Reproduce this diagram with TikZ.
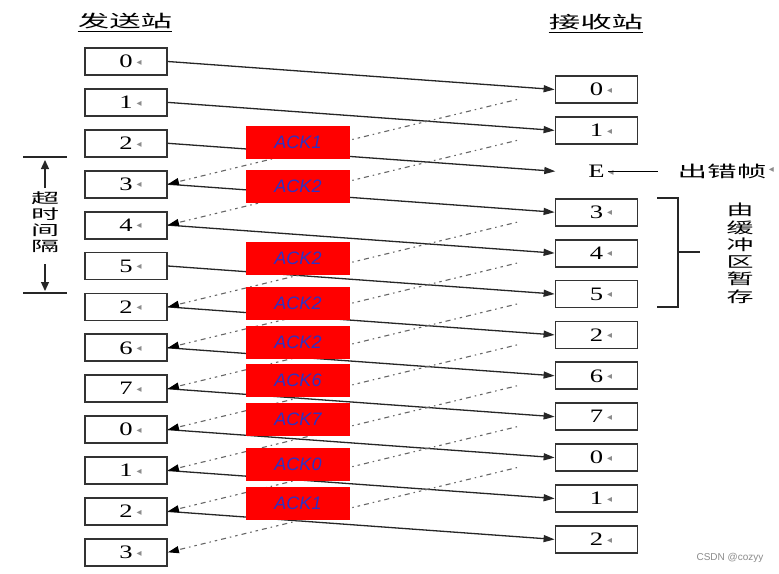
\documentclass[tikz,border=0pt]{standalone}
\usepackage{fontspec}
\setmainfont{Liberation Serif}
\newfontfamily\cjk{Noto Sans CJK SC}
\newfontfamily\dvs{DejaVu Sans}
\newfontfamily\arial{Liberation Sans}
\usetikzlibrary{arrows.meta}
\definecolor{ackblue}{RGB}{45,50,195}
\newcommand{\tri}{{\dvs\fontsize{10}{10}\selectfont\color{black!45}\raisebox{2.5pt}{◂}}}
\newcommand{\dig}[1]{\hphantom{\tri}\hspace{4pt}\scalebox{1.4}[1]{\fontsize{19}{19}\selectfont #1}\hspace{4pt}\tri}
\newcommand{\cjks}[3]{\scalebox{#1}[1]{\cjk\fontsize{#2}{#2}\selectfont #3}}
\begin{document}
\begin{tikzpicture}[x=1pt,y=-1pt,
  fbox/.style={draw=black!80, line width=1.8pt, minimum width=82pt, minimum height=27pt, inner sep=0pt},
  data/.style={line width=1.3pt, draw=black!85, -{Triangle[length=11pt,width=7pt]}},
  ack/.style={line width=1.1pt, draw=black!60, dash pattern=on 1.5pt off 4pt on 5pt off 4pt on 2.5pt off 4pt, -{Triangle[length=11pt,width=7pt,color=black]}},
  ackbox/.style={fill=red, minimum width=104pt, minimum height=33pt, inner sep=0pt, font=\arial\itshape\fontsize{18}{18}\selectfont, text=ackblue},
  markline/.style={line width=1.3pt, draw=black!85},
  title/.style={inner sep=0pt}]
\fill[white] (0,0) rectangle (779,573);
\useasboundingbox (0,0) rectangle (779,573);

% titles
\node[title] (t1) at (125,21) {\cjks{1.85}{17}{发送站}};
\node[title] (t2) at (596,22) {\cjks{1.85}{17}{接收站}};
\draw[line width=0.8pt] ([yshift=-2pt]t1.south west) -- ([yshift=-2pt]t1.south east);
\draw[line width=0.8pt] ([yshift=-2pt]t2.south west) -- ([yshift=-2pt]t2.south east);

% sender boxes
\foreach \t [count=\i from 0] in {0,1,2,3,4,5,2,6,7,0,1,2,3}
  \node[fbox] (L\i) at (126, 61.5+40.9*\i) {\dig{\t}};

% receiver boxes
\foreach \t/\j in {0/0,1/1,3/3,4/4,5/5,2/6,6/7,7/8,0/9,1/10,2/11}
  \node[fbox] (R\j) at (596.5, 89.5+40.9*\j) {\dig{\t}};
\node[minimum width=82pt, minimum height=27pt, inner sep=0pt] (R2) at (596.5, 171.3) {\dig{E}};

% data frames
\foreach \i in {0,...,11}
  \draw[data] (L\i.east) -- (R\i.west);

% acknowledgements
\foreach \j in {0,1,3,4,5,6,7,8,9}{
  \pgfmathtruncatemacro{\k}{\j+3}
  \coordinate (A\j) at (517, 99.5+40.9*\j);
  \draw[ack] (A\j) -- (L\k.east);
}

% error frame label
\node[title] (err) at (722,171) {\cjks{1.85}{16}{出错帧}};
\node[title, anchor=west] (errt) at ([xshift=2pt]err.east) {\tri};
\coordinate (eA) at (608,171.3);
\coordinate (eB) at (658,171.3);
\draw[line width=1.1pt] (eA) -- (eB);

% buffer bracket
\coordinate (b1) at (657,198);
\coordinate (b2) at (678,198);
\coordinate (b3) at (678,307);
\coordinate (b4) at (657,307);
\coordinate (bm) at (678,252);
\coordinate (bt) at (700,252);
\draw[markline] (b1) -- (b2) -- (b3) -- (b4);
\draw[markline] (bm) -- (bt);
\node[title] (buf) at (740,255) {\scalebox{1.8}[1]{\cjk\fontsize{15}{16}\selectfont\begin{tabular}{@{}c@{}}由\\缓\\冲\\区\\暂\\存\end{tabular}}};

% timeout interval
\coordinate (tl1) at (23,157);
\coordinate (tl2) at (67,157);
\coordinate (bl1) at (23,293);
\coordinate (bl2) at (67,293);
\draw[markline] (tl1) -- (tl2);
\draw[markline] (bl1) -- (bl2);
\node[title] (tout) at (45,224) {\scalebox{2.0}[1]{\cjk\fontsize{14}{15.5}\selectfont\begin{tabular}{@{}c@{}}超\\时\\间\\隔\end{tabular}}};
\coordinate (ua) at (45,188);
\coordinate (ub) at (45,160);
\coordinate (da) at (45,264);
\coordinate (db) at (45,291);
\draw[markline, -{Triangle[length=9pt,width=8pt]}] (ua) -- (ub);
\draw[markline, -{Triangle[length=9pt,width=8pt]}] (da) -- (db);

% red ACK labels
\foreach \n/\y [count=\c] in {ACK1/142.5, ACK2/186.5, ACK2/258, ACK2/303, ACK2/342, ACK6/380, ACK7/419.5, ACK0/464.5, ACK1/503.5}
  \node[ackbox] (K\c) at (298,\y) {\n};

% watermark
\node[title, text=black!45, font=\arial\fontsize{10}{10}\selectfont] (wm) at (730,558) {CSDN @cozyy};
\end{tikzpicture}
\end{document}
